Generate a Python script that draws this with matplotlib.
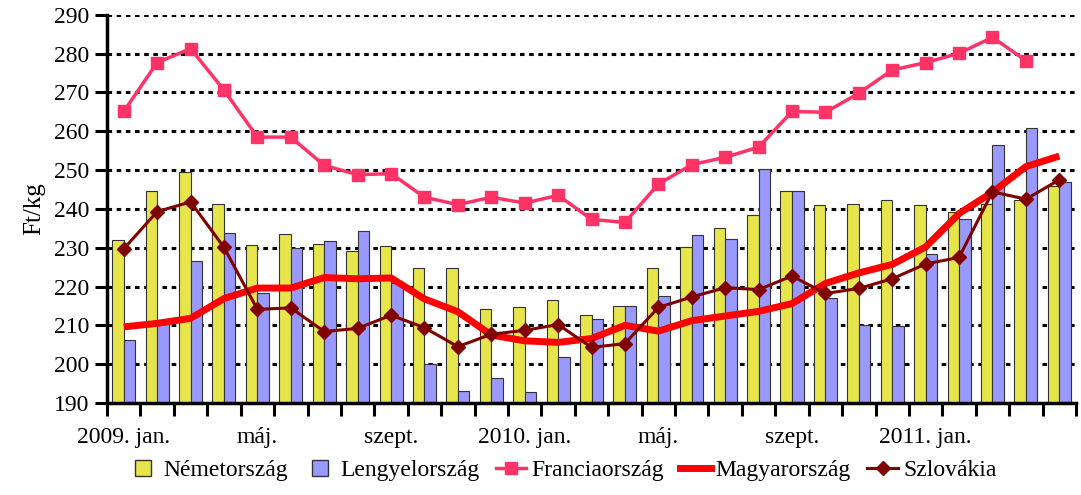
import matplotlib.pyplot as plt
from matplotlib.lines import Line2D
import numpy as np

plt.rcParams['font.family'] = ['Liberation Serif', 'DejaVu Serif']

months = ["2009. jan.", "febr.", "márc.", "ápr.", "máj.", "jún.", "júl.", "aug.", "szept.", "okt.", "nov.", "dec.",
          "2010. jan.", "febr.", "márc.", "ápr.", "máj.", "jún.", "júl.", "aug.", "szept.", "okt.", "nov.", "dec.",
          "2011. jan.", "febr.", "márc.", "ápr.", "máj."]
shown_pos = [0, 4, 8, 12, 16, 20, 24]

nemet = [232.1, 244.6, 249.4, 241.3, 230.7, 233.6, 231.0, 229.1, 230.4, 224.8, 224.8, 214.2, 214.6, 216.4, 212.7,
         214.9, 224.7, 230.2, 235.1, 238.4, 244.5, 241.1, 241.3, 242.3, 241.1, 239.3, 241.2, 242.4, 245.9]
lengyel = [206.3, 210.5, 226.6, 233.7, 218.2, 230.0, 231.6, 234.2, 220.8, 200.0, 193.0, 196.3, 192.7, 201.9, 211.7,
           214.9, 217.6, 233.3, 232.2, 250.2, 244.7, 217.0, 210.0, 209.7, 228.3, 237.3, 256.4, 260.8, 246.9]
francia = [265.1, 277.7, 281.3, 270.6, 258.5, 258.5, 251.2, 248.8, 249.1, 243.0, 241.1, 243.0, 241.5, 243.5, 237.3,
           236.5, 246.4, 251.4, 253.3, 255.9, 265.1, 264.9, 269.8, 275.8, 277.7, 280.1, 284.2, 278.2]
magyar = [209.6, 210.5, 211.8, 216.9, 219.6, 219.6, 222.3, 222.0, 222.2, 216.8, 213.5, 207.5, 206.0, 205.6, 206.6,
          210.0, 208.5, 211.2, 212.4, 213.6, 215.6, 220.8, 223.5, 225.7, 230.2, 238.8, 244.3, 250.9, 253.6]
szlovak = [229.7, 239.3, 241.8, 230.1, 214.1, 214.5, 208.4, 209.2, 212.6, 209.4, 204.5, 207.7, 208.7, 210.2, 204.3,
           205.3, 214.6, 217.3, 219.7, 219.2, 222.7, 218.2, 219.5, 222.0, 225.8, 227.5, 244.4, 242.5, 247.5]

c_nemet = '#E6E64C'
c_lengyel = '#9999FF'
c_francia = '#FF3366'
c_magyar = '#FF0000'
c_szlovak = '#800000'

fig = plt.figure(figsize=(10.81, 4.95), dpi=100)
ax = fig.add_axes([0.099, 0.186, 0.8964, 0.784])

x = np.arange(len(months))
w = 0.345
ax.bar(x - w / 2, np.array(nemet) - 190, w, bottom=190, color=c_nemet, edgecolor='#333333', linewidth=0.8, zorder=2)
ax.bar(x + w / 2, np.array(lengyel) - 190, w, bottom=190, color=c_lengyel, edgecolor='#333333', linewidth=0.8, zorder=2)
ax.plot(x[:len(francia)], francia, color=c_francia, lw=2.5, marker='s', markersize=9, zorder=4)
ax.plot(x, magyar, color=c_magyar, lw=5, zorder=3, solid_capstyle='butt')
ax.plot(x, szlovak, color=c_szlovak, lw=2.2, marker='D', markersize=7.5, zorder=5)

ax.set_xlim(-0.5, len(months) - 0.5)
ax.set_ylim(190, 290)
ax.set_yticks(range(190, 291, 10))
ax.yaxis.grid(True, color='black', linestyle=(0, (1.5, 1.5)), linewidth=2.2, zorder=0)
ax.set_axisbelow(True)

# ticks between months, labels every 4th month
ax.set_xticks(np.arange(-0.5, len(months), 1))
ax.set_xticklabels([])
ax.set_xticks(shown_pos, minor=True)
ax.set_xticklabels([months[i] for i in shown_pos], minor=True)
ax.tick_params(axis='x', which='major', direction='out', length=9, width=2.2)
ax.tick_params(axis='x', which='minor', length=0, pad=17, labelsize=17)
ax.tick_params(axis='y', direction='out', length=9, width=2.2, labelsize=17, pad=4)

for s in ['top', 'right']:
    ax.spines[s].set_visible(False)
ax.spines['left'].set_linewidth(2.5)
ax.spines['bottom'].set_linewidth(2.5)

ax.set_ylabel("Ft/kg", fontsize=18, labelpad=6)

handles = [
    Line2D([], [], marker='s', linestyle='none', markersize=12, markerfacecolor=c_nemet, markeredgecolor='#333333'),
    Line2D([], [], marker='s', linestyle='none', markersize=12, markerfacecolor=c_lengyel, markeredgecolor='#333333'),
    Line2D([], [], color=c_francia, lw=2.5, marker='s', markersize=9),
    Line2D([], [], color=c_magyar, lw=5),
    Line2D([], [], color=c_szlovak, lw=2.2, marker='D', markersize=7.5),
]
labels = ["Németország", "Lengyelország", "Franciaország", "Magyarország", "Szlovákia"]
fig.legend(handles, labels, loc='lower center', bbox_to_anchor=(0.52, -0.015), ncol=5, frameon=False,
           fontsize=17, handlelength=1.3, handletextpad=0.2, columnspacing=0.7)

fig.savefig("out.png", dpi=100)
